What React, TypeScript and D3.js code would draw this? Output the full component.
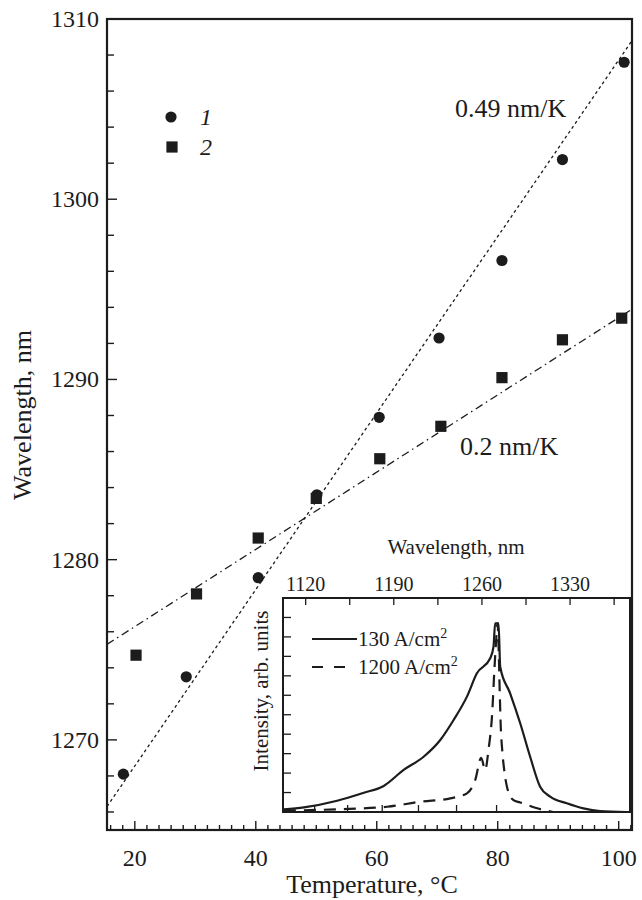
import React from "react";
import * as d3 from "d3";

// Main plot data (temperature, °C ; wavelength, nm)
const temp1 = [18.1, 28.5, 40.4, 50.1, 60.4, 70.3, 80.7, 90.7, 100.9];
const wl1 = [1268.1, 1273.5, 1279.0, 1283.6, 1287.9, 1292.3, 1296.6, 1302.2, 1307.6];
const temp2 = [20.2, 30.2, 40.4, 50.0, 60.5, 70.6, 80.7, 90.7, 100.5];
const wl2 = [1274.7, 1278.1, 1281.2, 1283.4, 1285.6, 1287.4, 1290.1, 1292.2, 1293.4];

// Linear fit lines (end points)
const fit1T = [15.4, 102.2];
const fit1L = [1266.3, 1308.8];
const fit2T = [15.4, 102.2];
const fit2L = [1275.3, 1293.9];

const xTickLabels = [20, 40, 60, 80, 100];
const yTickLabels = [1270, 1280, 1290, 1300, 1310];

// Inset spectra (wavelength, nm ; intensity, arb. units)
const solidWl = [1102.7, 1118.6, 1145, 1166.2, 1182, 1197.8, 1213.7, 1226.9, 1237.5, 1248.1, 1256.0, 1266.6, 1269.2, 1270.5, 1273.2, 1274.5, 1282.4, 1290.4, 1298.3, 1306.2, 1314.2, 1327.4, 1340.6, 1353.8, 1375];
const solidI = [0.014, 0.024, 0.058, 0.099, 0.134, 0.216, 0.284, 0.37, 0.473, 0.593, 0.713, 0.79, 0.85, 0.97, 0.97, 0.747, 0.61, 0.456, 0.284, 0.13, 0.079, 0.045, 0.019, 0.005, 0.0];
const dashWl = [1102.7, 1145, 1184.7, 1211.1, 1234.9, 1248.1, 1254.7, 1259.4, 1262.6, 1265.2, 1268.2, 1269.8, 1271.3, 1272.4, 1273.3, 1274.1, 1274.9, 1276.1, 1277.7, 1280.1, 1284.8, 1290.4, 1303.9, 1316.5];
const dashI = [0.007, 0.014, 0.027, 0.053, 0.07, 0.096, 0.165, 0.278, 0.216, 0.319, 0.514, 0.72, 0.884, 0.97, 0.83, 0.627, 0.447, 0.319, 0.216, 0.123, 0.062, 0.049, 0.019, 0.0];
const insetTopLabels = [1120, 1190, 1260, 1330];
const insetTopTicks = [1120, 1155, 1190, 1225, 1260, 1295, 1330, 1365];
const insetBottomEnergies = [1.1, 1.075, 1.05, 1.025, 1.0, 0.975];
const insetYTicks = [0.1, 0.2, 0.3, 0.4, 0.5, 0.6, 0.7, 0.8, 0.9, 1.0];
const legendInset = ["130 A/cm", "1200 A/cm"];

const INK = "#1c1c1c";
const FONT = "'Liberation Serif', 'DejaVu Serif', serif";

export default function App() {
  const W = 642, H = 900;
  const x = d3.scaleLinear().domain([15.4, 102.2]).range([107, 632]);
  const y = d3.scaleLinear().domain([1265, 1310]).range([830, 19]);

  const xTicks = d3.range(16, 102.1, 2);
  const yTicks = d3.range(1266, 1310, 2);

  const fitLine = d3.line<number>().x((d, i) => x(d)).y((d, i) => 0);
  const seg = (ts: number[], ls: number[]) =>
    d3.line<number>().x((d) => x(d)).y((d, i) => y(ls[i]))(ts) as string;

  // inset
  const ix = d3.scaleLinear().domain([1102, 1377.6]).range([283, 630]);
  const iy = d3.scaleLinear().domain([0, 1.1]).range([812, 598]);
  const spec = (wls: number[], is: number[]) =>
    d3.line<number>().x((d) => ix(d)).y((d, i) => iy(is[i])).curve(d3.curveMonotoneX)(wls) as string;

  return (
    <svg width={W} height={H} style={{ position: "absolute", left: 0, top: 0, background: "#fff" }} fontFamily={FONT}>
      <rect x={0} y={0} width={W} height={H} fill="#fff" />
      {/* fit lines */}
      <path d={seg(fit1T, fit1L)} stroke={INK} strokeWidth={1.3} strokeDasharray="3,3" fill="none" />
      <path d={seg(fit2T, fit2L)} stroke={INK} strokeWidth={1.3} strokeDasharray="8,4,1.5,4" fill="none" />

      {/* data points */}
      {temp1.map((t, i) => (
        <circle key={"c" + i} cx={x(t)} cy={y(wl1[i])} r={5.6} fill={INK} />
      ))}
      {temp2.map((t, i) => (
        <rect key={"s" + i} x={x(t) - 5.6} y={y(wl2[i]) - 5.6} width={11.2} height={11.2} fill={INK} />
      ))}

      {/* legend */}
      <circle cx={171} cy={117} r={5.6} fill={INK} />
      <rect x={172 - 5.6} y={147 - 5.6} width={11.2} height={11.2} fill={INK} />
      <text x={200} y={125} fontSize={24} fontStyle="italic" fill={INK}>1</text>
      <text x={200} y={155} fontSize={24} fontStyle="italic" fill={INK}>2</text>

      {/* annotations */}
      <text x={455} y={117} fontSize={26} fill={INK}>0.49 nm/K</text>
      <text x={460} y={455} fontSize={26} fill={INK}>0.2 nm/K</text>

      {/* frame */}
      <rect x={107} y={19} width={525} height={811} fill="none" stroke={INK} strokeWidth={2.2} />
      {xTicks.map((t) => {
        const major = Math.abs(t % 20) < 1e-6;
        return <line key={"xt" + t} x1={x(t)} x2={x(t)} y1={830} y2={830 - (major ? 9 : 5)} stroke={INK} strokeWidth={1.4} />;
      })}
      {yTicks.map((v) => {
        const major = Math.abs(v % 10) < 1e-6;
        return <line key={"yt" + v} x1={107} x2={107 + (major ? 10 : 7)} y1={y(v)} y2={y(v)} stroke={INK} strokeWidth={1.4} />;
      })}
      {xTickLabels.map((t) => (
        <text key={"xl" + t} x={x(t)} y={866} fontSize={24} textAnchor="middle" fill={INK}>{t}</text>
      ))}
      {yTickLabels.map((v) => (
        <text key={"yl" + v} x={99} y={y(v) + 8} fontSize={24} textAnchor="end" fill={INK}>{v}</text>
      ))}
      <text x={372} y={893} fontSize={26} textAnchor="middle" fill={INK}>Temperature, °C</text>
      <text transform="translate(31,415) rotate(-90)" fontSize={26} textAnchor="middle" fill={INK}>Wavelength, nm</text>

      {/* inset */}
      <rect x={283} y={598} width={347} height={214} fill="#fff" stroke={INK} strokeWidth={2} />
      {insetYTicks.map((v) => (
        <line key={"iy" + v} x1={283} x2={291} y1={iy(v)} y2={iy(v)} stroke={INK} strokeWidth={1.3} />
      ))}
      {insetTopTicks.map((v) => (
        <line key={"it" + v} x1={ix(v)} x2={ix(v)} y1={598} y2={605} stroke={INK} strokeWidth={1.3} />
      ))}
      {insetBottomEnergies.map((e) => (
        <line key={"ib" + e} x1={ix(1239.84 / e)} x2={ix(1239.84 / e)} y1={812} y2={805} stroke={INK} strokeWidth={1.3} />
      ))}
      {insetTopLabels.map((v) => (
        <text key={"itl" + v} x={ix(v)} y={591} fontSize={20} textAnchor="middle" fill={INK}>{v}</text>
      ))}
      <text x={456} y={554} fontSize={21} textAnchor="middle" fill={INK}>Wavelength, nm</text>
      <text transform="translate(268,691) rotate(-90)" fontSize={21} textAnchor="middle" fill={INK}>Intensity, arb. units</text>

      <path d={spec(solidWl, solidI)} stroke={INK} strokeWidth={2.2} fill="none" strokeLinejoin="round" />
      <path d={spec(dashWl, dashI)} stroke={INK} strokeWidth={2.2} fill="none" strokeDasharray="12,8" />

      <line x1={312} x2={357} y1={639} y2={639} stroke={INK} strokeWidth={2.2} />
      <line x1={312} x2={352} y1={667} y2={667} stroke={INK} strokeWidth={2.2} strokeDasharray="11,11" />
      <text x={358} y={646} fontSize={21} fill={INK}>{legendInset[0]}<tspan dy={-8} fontSize={14}>2</tspan></text>
      <text x={358} y={674} fontSize={21} fill={INK}>{legendInset[1]}<tspan dy={-8} fontSize={14}>2</tspan></text>
    </svg>
  );
}
